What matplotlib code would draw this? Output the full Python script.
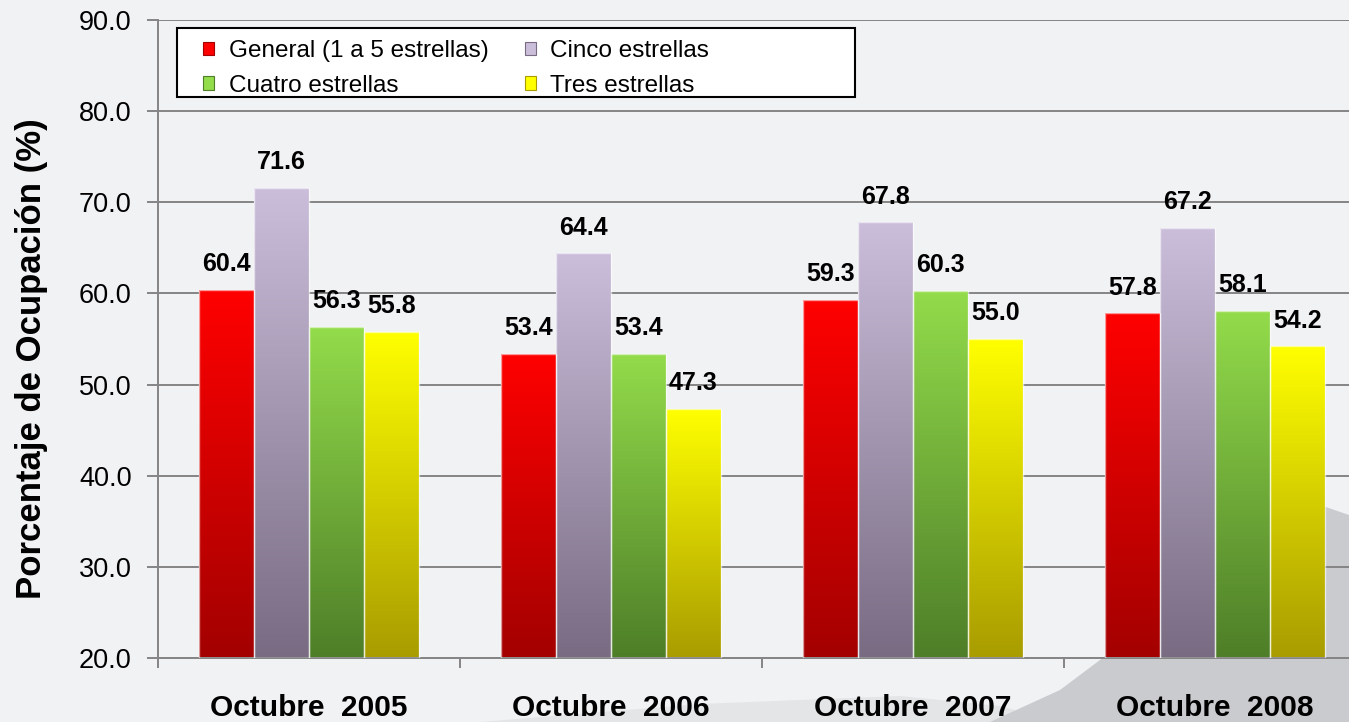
import numpy as np
import matplotlib
matplotlib.use("Agg")
import matplotlib.pyplot as plt
from matplotlib.patches import Patch, Polygon, Rectangle
from matplotlib.colors import LinearSegmentedColormap

plt.rcParams['font.family'] = ['Liberation Sans', 'DejaVu Sans']

categories = ["Octubre  2005", "Octubre  2006", "Octubre  2007", "Octubre  2008"]
series_names = ["General (1 a 5 estrellas)", "Cinco estrellas", "Cuatro estrellas", "Tres estrellas"]
general = [60.4, 53.4, 59.3, 57.8]
cinco = [71.6, 64.4, 67.8, 67.2]
cuatro = [56.3, 53.4, 60.3, 58.1]
tres = [55.8, 47.3, 55.0, 54.2]
series = [general, cinco, cuatro, tres]

# (top colour, bottom colour) for each series gradient
grad_colors = [("#ff0000", "#a30000"),
               ("#cbbedb", "#786b82"),
               ("#93dc4b", "#4e7e28"),
               ("#ffff00", "#a89c00")]

W, H = 1349, 722
fig = plt.figure(figsize=(W / 100, H / 100), dpi=100)
fig.patch.set_facecolor("#f1f2f4")

# background layer: faint grey mountain in the lower right corner of the slide
bg = fig.add_axes([0, 0, 1, 1], zorder=-1)
bg.set_xlim(0, W)
bg.set_ylim(H, 0)
bg.axis("off")
hill = [(480, 722), (700, 704), (900, 696), (1000, 706), (1060, 722)]
bg.add_patch(Polygon(hill, closed=True, fc="#e4e5e7", ec="none"))
mountain = [(990, 722), (1060, 690), (1120, 645), (1180, 585), (1240, 525),
            (1290, 490), (1320, 505), (1349, 515), (1349, 722)]
bg.add_patch(Polygon(mountain, closed=True, fc="#cacbce", ec="none"))

ax = fig.add_axes([158 / W, 64 / H, 1208 / W, 638 / H])
ax.patch.set_alpha(0)

x = np.arange(len(categories))
w = 0.182

for i, (vals, (ctop, cbot)) in enumerate(zip(series, grad_colors)):
    bars = ax.bar(x + (i - 1.5) * w, np.array(vals) - 20, w, bottom=20,
                  color="none", edgecolor=(1, 1, 1, 0.6), linewidth=1.0, zorder=3)
    cmap = LinearSegmentedColormap.from_list("g%d" % i, [cbot, ctop])
    for b, v in zip(bars, vals):
        x0, y0 = b.get_x(), b.get_y()
        img = ax.imshow(np.linspace(0, 1, 256).reshape(-1, 1), cmap=cmap, origin="lower",
                        extent=[x0, x0 + b.get_width(), y0, y0 + b.get_height()],
                        aspect="auto", zorder=2, interpolation="bicubic")
        img.set_clip_path(b)
        ax.annotate("%.1f" % v, (b.get_x() + b.get_width() / 2, v), xytext=(0, 18.5),
                    textcoords="offset points", ha="center", va="center",
                    fontsize=18, fontweight="bold", color="black", zorder=5)

ax.set_xlim(-0.5, 3.5)
ax.set_ylim(20, 90)

ax.set_yticks(np.arange(20, 91, 10))
ax.set_yticklabels(["%.1f" % t for t in np.arange(20, 91, 10)], fontsize=19.5)
ax.yaxis.grid(True, color="#858585", linewidth=1.4, zorder=1)
ax.set_axisbelow(True)

ax.set_xticks(x)
ax.set_xticklabels(categories, fontsize=21.5, fontweight="bold")
ax.set_xticks([-0.5, 0.5, 1.5, 2.5], minor=True)
ax.tick_params(axis="x", which="major", length=0, pad=26)
ax.tick_params(axis="x", which="minor", length=7, width=1.4, color="#858585")
ax.tick_params(axis="y", length=8, width=1.4, color="#858585", pad=11)

for s in ["top", "right"]:
    ax.spines[s].set_visible(False)
for s in ["left", "bottom"]:
    ax.spines[s].set_color("#858585")
    ax.spines[s].set_linewidth(1.4)

fig.text(32 / W, 1 - 359 / H, "Porcentaje de Ocupación (%)", rotation=90,
         ha="center", va="center", fontsize=25, fontweight="bold")

# legend box (frame drawn separately so it can be wider than its entries)
ax.add_patch(Rectangle((19 / 1208, (658 - 97) / 638), 678 / 1208, 69 / 638,
                       transform=ax.transAxes, fc="white", ec="black", lw=1.5,
                       zorder=6, clip_on=False))
handles = [Patch(facecolor=c[0], edgecolor=c[1], linewidth=0.8) for c in grad_colors]
order = [0, 2, 1, 3]  # fill legend row by row
leg = ax.legend([handles[k] for k in order], [series_names[k] for k in order], ncol=2,
                bbox_to_anchor=(45 / 1208, (658 - 40) / 638), loc="upper left",
                fontsize=17.5, frameon=False, handlelength=0.45, handleheight=0.45,
                handletextpad=0.6, columnspacing=1.5, borderpad=0, labelspacing=0.52,
                borderaxespad=0)
leg.set_zorder(7)

fig.savefig("out.png", dpi=100, facecolor=fig.get_facecolor())
